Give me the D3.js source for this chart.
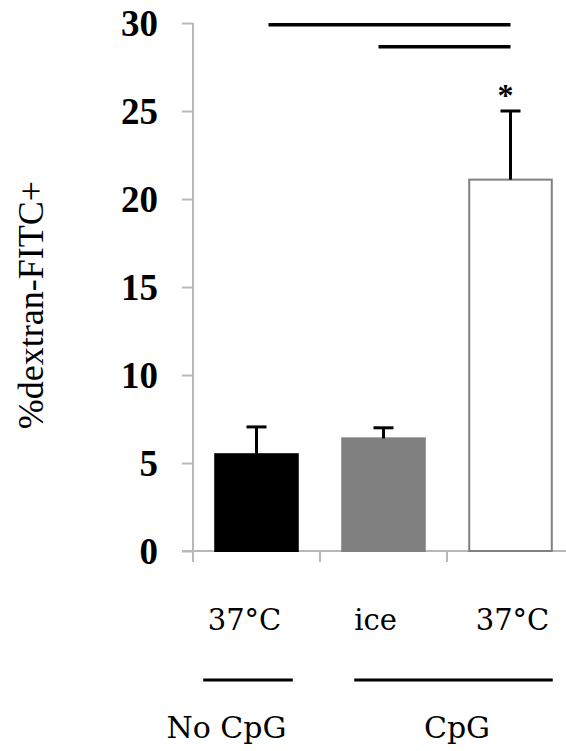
<!DOCTYPE html>
<html>
<head>
<meta charset="utf-8">
<script src="https://cdn.jsdelivr.net/npm/d3@7"></script>
<style>
  html, body { margin: 0; padding: 0; background: #fff; }
  svg { display: block; }
</style>
</head>
<body>
<svg id="chart" width="566" height="751"></svg>
<script>
// values
const conditions = ["37°C", "ice", "37°C"];
const means      = [5.5, 6.4, 21.1];
const sems       = [1.55, 0.6, 3.9];
const barFills   = ["#000000", "#808080", "#ffffff"];
const yTicks     = [0, 5, 10, 15, 20, 25, 30];
const groupNames = ["No CpG", "CpG"];
const groupSpans = [[0, 0], [1, 2]];
// significance brackets: [from bar, to bar, height in % units]
const brackets   = [[0, 2, 29.9], [1, 2, 28.65]];
const starred    = [2];

const svg = d3.select('#chart');

const x = d3.scaleBand()
  .domain(d3.range(conditions.length))
  .range([193, 574])
  .paddingInner(0.35)
  .paddingOuter(0.175);

const y = d3.scaleLinear().domain([0, 30]).range([551, 23]);

const axisGray = '#b8b8b8';
const mid = i => x(i) + x.bandwidth() / 2;

// y axis line + ticks
svg.append('line')
  .attr('x1', 193).attr('x2', 193)
  .attr('y1', y(30)).attr('y2', y(0) + 11)
  .attr('stroke', axisGray).attr('stroke-width', 2);

const yAxis = d3.axisLeft(y).tickValues(yTicks).tickSize(11).tickPadding(24);
const gy = svg.append('g').attr('transform', 'translate(193,0)').call(yAxis);
gy.select('.domain').remove();
gy.selectAll('.tick line').attr('stroke', axisGray).attr('stroke-width', 2);
gy.selectAll('.tick text')
  .attr('fill', '#000')
  .style('font-family', '"Liberation Serif", "Times New Roman", serif')
  .style('font-weight', 'bold')
  .style('font-size', '37px')
  .attr('dy', '0.34em');

// x baseline + category separators
svg.append('line')
  .attr('x1', 182).attr('x2', 574)
  .attr('y1', y(0)).attr('y2', y(0))
  .attr('stroke', axisGray).attr('stroke-width', 2);

const sep = d3.range(1, conditions.length).map(i => x(i) - x.step() * x.paddingInner() / 2);
svg.selectAll('line.sep').data(sep).join('line')
  .attr('class', 'sep')
  .attr('x1', d => d).attr('x2', d => d)
  .attr('y1', y(0)).attr('y2', y(0) + 11)
  .attr('stroke', axisGray).attr('stroke-width', 2);

// bars
svg.selectAll('rect.bar').data(means).join('rect')
  .attr('class', 'bar')
  .attr('x', (d, i) => x(i))
  .attr('width', x.bandwidth())
  .attr('y', d => y(d))
  .attr('height', d => y(0) - y(d))
  .attr('fill', (d, i) => barFills[i])
  .attr('stroke', (d, i) => i === 0 ? '#000' : '#808080')
  .attr('stroke-width', 2);

// error bars (upper only)
const err = svg.selectAll('g.err').data(means).join('g').attr('class', 'err');
err.append('line')
  .attr('x1', (d, i) => mid(i))
  .attr('x2', (d, i) => mid(i))
  .attr('y1', d => y(d))
  .attr('y2', (d, i) => y(d + sems[i]))
  .attr('stroke', '#000').attr('stroke-width', 3);
err.append('line')
  .attr('x1', (d, i) => mid(i) - 10)
  .attr('x2', (d, i) => mid(i) + 10)
  .attr('y1', (d, i) => y(d + sems[i]))
  .attr('y2', (d, i) => y(d + sems[i]))
  .attr('stroke', '#000').attr('stroke-width', 3);

// asterisk
svg.selectAll('text.star').data(starred).join('text')
  .attr('class', 'star')
  .attr('x', i => mid(i) - 5)
  .attr('y', i => y(means[i] + sems[i]) - 5)
  .attr('text-anchor', 'middle')
  .style('font-family', '"Liberation Serif", serif')
  .style('font-weight', 'bold')
  .style('font-size', '32px')
  .text('*');

// significance lines
svg.selectAll('line.sig').data(brackets).join('line')
  .attr('class', 'sig')
  .attr('x1', d => mid(d[0]) + (d[0] === 0 ? 12 : -5))
  .attr('x2', d => mid(d[1]))
  .attr('y1', d => y(d[2])).attr('y2', d => y(d[2]))
  .attr('stroke', '#000').attr('stroke-width', 3.5);

// y title
svg.append('text')
  .attr('transform', 'translate(43,305) rotate(-90)')
  .attr('text-anchor', 'middle')
  .style('font-family', '"Liberation Serif", "Times New Roman", serif')
  .style('font-size', '36px')
  .text('%dextran-FITC+');

// condition labels
const labFont = '"DejaVu Serif", serif';
const labShift = [-12, -8, 2];
svg.selectAll('text.cond').data(conditions).join('text')
  .attr('class', 'cond')
  .attr('x', (d, i) => mid(i) + labShift[i])
  .attr('y', 630)
  .attr('text-anchor', 'middle')
  .style('font-family', labFont)
  .style('font-size', '29px')
  .text(d => d);

// group rules + names
svg.selectAll('line.grp').data(groupSpans).join('line')
  .attr('class', 'grp')
  .attr('x1', d => x(d[0]) + (d[0] === 0 ? -12 : 12))
  .attr('x2', d => x(d[1]) + x.bandwidth() + (d[0] === d[1] ? -5 : 1))
  .attr('y1', 680).attr('y2', 680)
  .attr('stroke', '#000').attr('stroke-width', 3);

svg.selectAll('text.grp').data(groupNames).join('text')
  .attr('class', 'grp')
  .attr('x', (d, i) => i === 0 ? mid(0) - 30 : (x(1) + x(2) + x.bandwidth()) / 2 + 10)
  .attr('y', 738)
  .attr('text-anchor', 'middle')
  .style('font-family', labFont)
  .style('font-size', '30px')
  .text(d => d);
</script>
</body>
</html>
